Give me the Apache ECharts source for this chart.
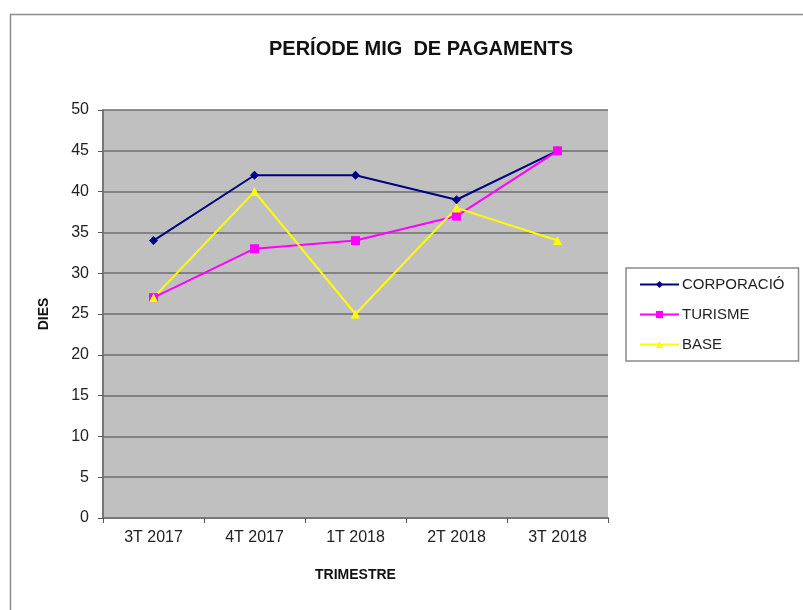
<!DOCTYPE html>
<html><head><meta charset="utf-8">
<script src="https://cdn.jsdelivr.net/npm/echarts@6/dist/echarts.min.js"></script>
<style>html,body{margin:0;padding:0;background:#fff}#c{width:803px;height:610px}</style>
</head><body><div id="c"></div>
<script>
const categories = ['3T 2017','4T 2017','1T 2018','2T 2018','3T 2018'];
const corporacio = [34, 42, 42, 39, 45];
const turisme = [27, 33, 34, 37, 45];
const base = [27, 40, 25, 38, 34];
const seriesNames = ['CORPORACIÓ','TURISME','BASE'];

const chart = echarts.init(document.getElementById('c'), null, {renderer:'canvas'});
const F = 'Liberation Sans, Arial, sans-serif';
function mk(name, data, color, symbol, size){
  return {name, type:'line', data, symbol, symbolSize:size, showSymbol:true,
    lineStyle:{color, width:2}, itemStyle:{color, borderWidth:0}, animation:false};
}
chart.setOption({
  animation:false,
  backgroundColor:'#fff',
  graphic:[{type:'rect', left:8, top:12, shape:{width:810, height:620}, style:{fill:'none', stroke:'#8a8a8a', lineWidth:1.5}, z:-1}],
  title:{text:'PERÍODE MIG  DE PAGAMENTS', left:416, top:34, textAlign:'center',
    textStyle:{fontFamily:F, fontSize:20, fontWeight:'bold', color:'#111'}},
  grid:{left:103, right:195, top:110, bottom:92, show:true, backgroundColor:'#c0c0c0', borderWidth:0},
  legend:{orient:'vertical', left:626, top:268, data:seriesNames,
    borderColor:'#8a8a8a', borderWidth:1.5, padding:[9,14,9,13], itemGap:15,
    itemWidth:39, itemHeight:9, textStyle:{fontFamily:F, fontSize:15, color:'#222', padding:[0,0,0,-2]}, backgroundColor:'#fff'},
  xAxis:{type:'category', data:categories, boundaryGap:true,
    name:'TRIMESTRE', nameLocation:'middle', nameGap:50,
    nameTextStyle:{fontFamily:F, fontSize:14, fontWeight:'bold', color:'#111'},
    axisLine:{lineStyle:{color:'#777', width:2}},
    axisTick:{show:true, length:5, lineStyle:{color:'#555'}},
    axisLabel:{fontFamily:F, fontSize:16, color:'#222', margin:12}},
  yAxis:{type:'value', min:0, max:50, interval:5,
    name:'DIES', nameLocation:'middle', nameGap:52, nameRotate:90,
    nameTextStyle:{fontFamily:F, fontSize:14, fontWeight:'bold', color:'#111'},
    axisLine:{show:true, lineStyle:{color:'#777', width:2}},
    axisTick:{show:true, length:5, lineStyle:{color:'#555'}},
    axisLabel:{fontFamily:F, fontSize:16, color:'#222', margin:14},
    splitLine:{lineStyle:{color:'#6e6e6e', width:1.5}}},
  series:[
    mk('CORPORACIÓ', corporacio, '#000080', 'diamond', 9),
    mk('TURISME', turisme, '#ff00ff', 'rect', 9),
    mk('BASE', base, '#ffff00', 'triangle', 9)
  ]
});
</script></body></html>
